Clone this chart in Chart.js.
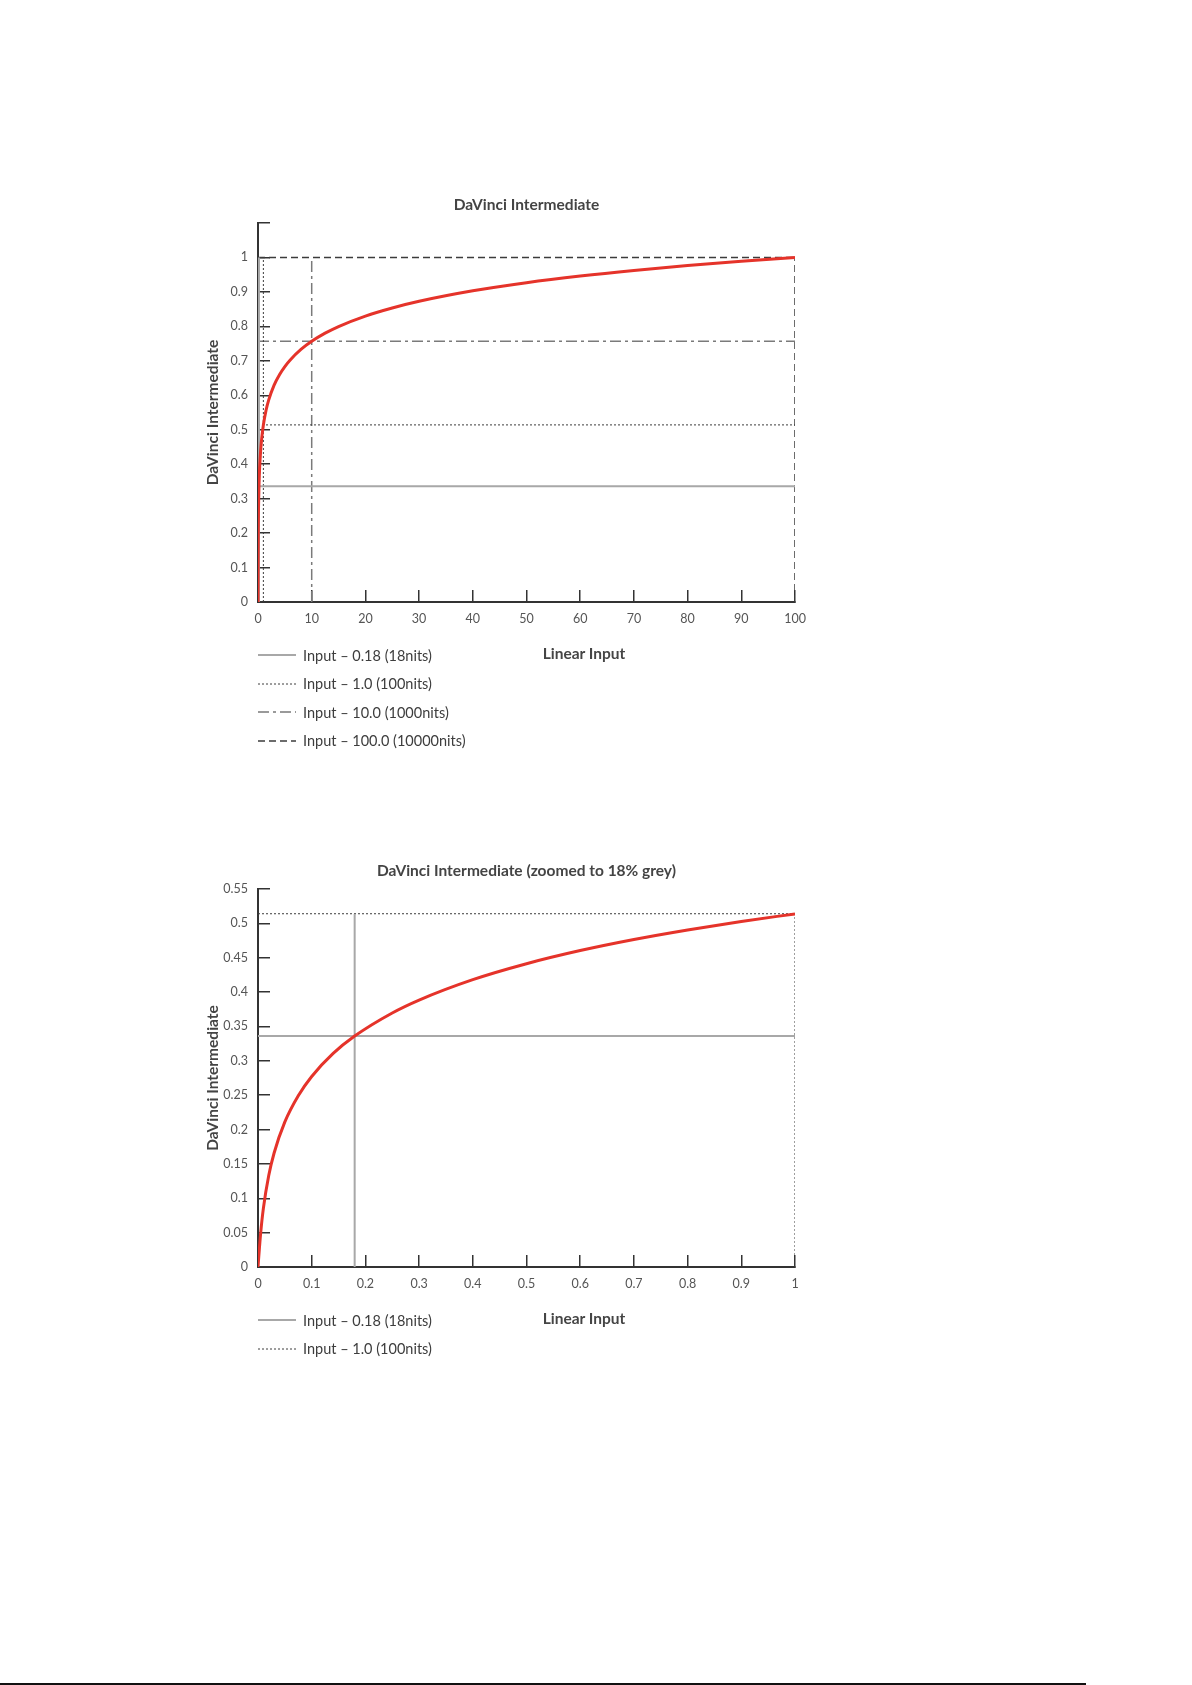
<!DOCTYPE html>
<html>
<head>
<meta charset="utf-8">
<script src="https://cdn.jsdelivr.net/npm/chart.js@4.4.1/dist/chart.umd.min.js"></script>
<style>
    body { margin: 0; background: #fff; }
    #page { position: relative; width: 1192px; height: 1685px; background: #fff; overflow: hidden; font-family: Lato, "Open Sans", sans-serif; }
    canvas { position: absolute; }
    .axisLabel { position: absolute; width: 200px; text-align: center; font-weight: bold; font-size: 15.5px; line-height: 20px; color: #454545; }
    .legend { position: absolute; }
    .legend div { display: flex; align-items: center; height: 28.5px; font-size: 14.5px; color: #3d3d3d; }
    .legend svg { margin-right: 7px; }
    .pageEdge { position: absolute; left: 0; top: 1683px; width: 1086px; height: 2px; background: #111; }
</style>
</head>
<body>
<div id="page">
    <canvas id="chart1" width="752" height="470" style="left:150px;top:180px"></canvas>
    <div class="axisLabel" style="left:484px;top:643px">Linear Input</div>
    <div class="legend" id="legend1" style="left:258px;top:641px"></div>

    <canvas id="chart2" width="752" height="470" style="left:150px;top:846px"></canvas>
    <div class="axisLabel" style="left:484px;top:1308px">Linear Input</div>
    <div class="legend" id="legend2" style="left:258px;top:1306px"></div>

    <div class="pageEdge"></div>
</div>
<script>
// full range curve, linear input 0..100
const fullInput = [0, 0.0025, 0.01, 0.05, 0.1, 0.18, 0.3, 0.5, 0.7, 1, 1.5, 2, 3, 4, 5, 6, 8, 10, 12.5, 15, 20, 25, 30, 40, 50, 60, 70, 80, 90, 100];
const fullOutput = [0, 0.0261, 0.0853, 0.2111, 0.2772, 0.3360, 0.3884, 0.4413, 0.4765, 0.5138, 0.5565, 0.5867, 0.6295, 0.6598, 0.6834, 0.7026, 0.7330, 0.7566, 0.7802, 0.7995, 0.8299, 0.8534, 0.8727, 0.9031, 0.9267, 0.9460, 0.9623, 0.9764, 0.9889, 1.0];

// zoomed curve, linear input 0..1
const zoomInput = [0, 0.0025, 0.005, 0.01, 0.02, 0.03, 0.05, 0.075, 0.1, 0.14, 0.18, 0.25, 0.3, 0.4, 0.5, 0.6, 0.7, 0.8, 0.9, 1.0];
const zoomOutput = [0, 0.0261, 0.0497, 0.0853, 0.1331, 0.1659, 0.2111, 0.2492, 0.2772, 0.3107, 0.3360, 0.3696, 0.3884, 0.4181, 0.4413, 0.4604, 0.4765, 0.4904, 0.5028, 0.5138];

// reference inputs and their encoded values
const refInput = [0.18, 1.0, 10.0, 100.0];
const refOutput = [0.336, 0.514, 0.757, 1.0];
const refLabels = ["Input – 0.18 (18nits)", "Input – 1.0 (100nits)", "Input – 10.0 (1000nits)", "Input – 100.0 (10000nits)"];

// ticks
const fullXTicks = [0, 10, 20, 30, 40, 50, 60, 70, 80, 90, 100];
const fullXLabels = ["0", "10", "20", "30", "40", "50", "60", "70", "80", "90", "100"];
const fullYTicks = [0, 0.1, 0.2, 0.3, 0.4, 0.5, 0.6, 0.7, 0.8, 0.9, 1.0, 1.1];
const fullYLabels = ["0", "0.1", "0.2", "0.3", "0.4", "0.5", "0.6", "0.7", "0.8", "0.9", "1", ""];
const zoomXTicks = [0, 0.1, 0.2, 0.3, 0.4, 0.5, 0.6, 0.7, 0.8, 0.9, 1.0];
const zoomXLabels = ["0", "0.1", "0.2", "0.3", "0.4", "0.5", "0.6", "0.7", "0.8", "0.9", "1"];
const zoomYTicks = [0, 0.05, 0.1, 0.15, 0.2, 0.25, 0.3, 0.35, 0.4, 0.45, 0.5, 0.55];
const zoomYLabels = ["0", "0.05", "0.1", "0.15", "0.2", "0.25", "0.3", "0.35", "0.4", "0.45", "0.5", "0.55"];

const refStyles = [
    { color: "#a8a8a8", width: 2, dash: [] },
    { color: "#3c3c3c", width: 1, dash: [2, 2] },
    { color: "#7a7a7a", width: 1.5, dash: [11, 4, 3, 4] },
    { color: "#3c3c3c", width: 1.5, dash: [7, 4] }
];

const fontFamily = "Lato, 'Open Sans', sans-serif";

buildChart("chart1", "legend1", {
    title: "DaVinci Intermediate",
    input: fullInput,
    output: fullOutput,
    refs: [0, 1, 2, 3],
    xTicks: fullXTicks, xLabels: fullXLabels,
    yTicks: fullYTicks, yLabels: fullYLabels,
    xBottom: 48
});

buildChart("chart2", "legend2", {
    title: "DaVinci Intermediate (zoomed to 18% grey)",
    input: zoomInput,
    output: zoomOutput,
    refs: [0, 1],
    xTicks: zoomXTicks, xLabels: zoomXLabels,
    yTicks: zoomYTicks, yLabels: zoomYLabels,
    xBottom: 49
});

function refData(i, xMax, yTop) {
    // horizontal across the whole input range, vertical up to the curve's top value
    return [
        { x: 0, y: refOutput[i] },
        { x: xMax, y: refOutput[i] },
        { x: refInput[i], y: null },
        { x: refInput[i], y: 0 },
        { x: refInput[i], y: yTop }
    ];
}

function buildChart(canvasId, legendId, cfg) {
    const xMax = cfg.xTicks[cfg.xTicks.length - 1];
    const yMax = cfg.yTicks[cfg.yTicks.length - 1];
    const yTop = cfg.output[cfg.output.length - 1];

    const datasets = [{
        label: "DaVinci Intermediate",
        data: cfg.input.map((x, i) => ({ x, y: cfg.output[i] })),
        borderColor: "#e5332a",
        borderWidth: 3,
        pointRadius: 0,
        cubicInterpolationMode: "monotone",
        order: 0,
        legend: false
    }];

    cfg.refs.forEach(i => {
        const s = refStyles[i];
        datasets.push({
            label: refLabels[i],
            data: refData(i, xMax, yTop),
            borderColor: s.color,
            borderWidth: s.width,
            borderDash: s.dash,
            pointRadius: 0,
            spanGaps: false,
            order: 1,
            legend: true
        });
    });

    const tickFont = { family: fontFamily, size: 12.5 };
    const boldFont = { family: fontFamily, size: 15.5, weight: "bold", lineHeight: 1.2 };

    const chart = new Chart(document.getElementById(canvasId), {
        type: "line",
        data: { datasets },
        options: {
            responsive: false,
            animation: false,
            layout: { padding: { left: 0, right: 107, top: 0, bottom: 0 } },
            plugins: {
                legend: { display: false },
                tooltip: { enabled: false },
                title: {
                    display: true,
                    fullSize: false,
                    text: cfg.title,
                    color: "#444",
                    font: boldFont,
                    padding: { top: 15.7, bottom: 8.7 }
                }
            },
            scales: {
                x: {
                    type: "linear",
                    min: 0,
                    max: xMax,
                    afterBuildTicks: s => { s.ticks = cfg.xTicks.map(v => ({ value: v })); },
                    afterFit: s => { s.height = cfg.xBottom; },
                    border: { display: true, color: "#333", width: 2 },
                    grid: { drawOnChartArea: false, drawTicks: true, tickLength: -12, color: "#333", lineWidth: 1.5 },
                    ticks: {
                        padding: 21.5,
                        color: "#555",
                        font: tickFont,
                        callback: (v, i) => cfg.xLabels[i]
                    }
                },
                y: {
                    type: "linear",
                    min: 0,
                    max: yMax,
                    afterBuildTicks: s => { s.ticks = cfg.yTicks.map(v => ({ value: v })); },
                    afterFit: s => { s.width = 108; },
                    border: { display: true, color: "#333", width: 2 },
                    grid: { drawOnChartArea: false, drawTicks: true, tickLength: -12, color: "#333", lineWidth: 1.5 },
                    ticks: {
                        padding: 22,
                        color: "#555",
                        font: tickFont,
                        callback: (v, i) => cfg.yLabels[i]
                    },
                    title: {
                        display: true,
                        text: "DaVinci Intermediate",
                        color: "#444",
                        font: boldFont,
                        padding: { top: 53.7, bottom: 0 }
                    }
                }
            }
        }
    });

    generateLegend(chart, document.getElementById(legendId));
    return chart;
}

function generateLegend(chart, hostDiv) {
    chart.data.datasets.filter(d => d.legend).forEach(d => {
        const row = document.createElement("div");
        const dash = (d.borderDash || []).join(",");
        row.innerHTML =
            `<svg width="38" height="10"><line x1="0" y1="5" x2="38" y2="5" stroke="${d.borderColor}" stroke-width="${d.borderWidth}"` +
            (dash ? ` stroke-dasharray="${dash}"` : "") + `/></svg>`;
        const label = document.createElement("span");
        label.innerText = d.label;
        row.appendChild(label);
        hostDiv.appendChild(row);
    });
}
</script>
</body>
</html>
